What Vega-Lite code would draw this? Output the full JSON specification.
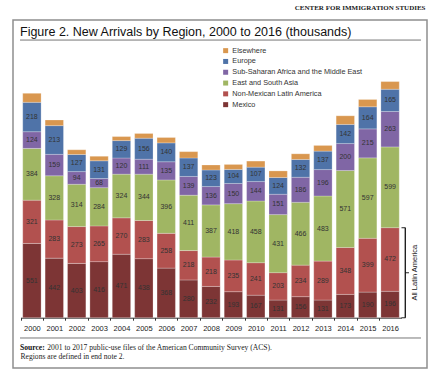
{
  "$schema": "https://vega.github.io/schema/vega-lite/v6.json",
  "width": 414,
  "height": 348,
  "autosize": {"type": "none"},
  "padding": {"left": 13, "top": 20, "right": 2, "bottom": 1},
  "background": "white",
  "title": {
    "text": "Figure 2. New Arrivals by Region, 2000 to 2016 (thousands)",
    "subtitle": "Source:",
    "anchor": "start", "frame": "group", "orient": "top", "offset": 0,
    "dx": 7, "dy": 358.5, "baseline": "alphabetic",
    "font": "Liberation Sans", "fontSize": 12.5, "fontWeight": "normal", "color": "#111111",
    "subtitleFont": "Liberation Serif", "subtitleFontSize": 7.6, "subtitleFontWeight": "bold", "subtitleColor": "#111111",
    "subtitlePadding": 301
  },
  "config": {
    "view": {"stroke": "#8f8f8f", "strokeWidth": 1.5},
    "font": "Liberation Sans"
  },
  "resolve": {"axis": {"x": "independent"}},
  "datasets": {
    "arrivals": [
      {"year": "2000", "region": "Mexico", "value": 551},
      {"year": "2001", "region": "Mexico", "value": 442},
      {"year": "2002", "region": "Mexico", "value": 403},
      {"year": "2003", "region": "Mexico", "value": 416},
      {"year": "2004", "region": "Mexico", "value": 471},
      {"year": "2005", "region": "Mexico", "value": 438},
      {"year": "2006", "region": "Mexico", "value": 368},
      {"year": "2007", "region": "Mexico", "value": 280},
      {"year": "2008", "region": "Mexico", "value": 232},
      {"year": "2009", "region": "Mexico", "value": 193},
      {"year": "2010", "region": "Mexico", "value": 167},
      {"year": "2011", "region": "Mexico", "value": 131},
      {"year": "2012", "region": "Mexico", "value": 156},
      {"year": "2013", "region": "Mexico", "value": 131},
      {"year": "2014", "region": "Mexico", "value": 173},
      {"year": "2015", "region": "Mexico", "value": 190},
      {"year": "2016", "region": "Mexico", "value": 196},
      {"year": "2000", "region": "Non-Mexican Latin America", "value": 321},
      {"year": "2001", "region": "Non-Mexican Latin America", "value": 283},
      {"year": "2002", "region": "Non-Mexican Latin America", "value": 273},
      {"year": "2003", "region": "Non-Mexican Latin America", "value": 265},
      {"year": "2004", "region": "Non-Mexican Latin America", "value": 270},
      {"year": "2005", "region": "Non-Mexican Latin America", "value": 283},
      {"year": "2006", "region": "Non-Mexican Latin America", "value": 258},
      {"year": "2007", "region": "Non-Mexican Latin America", "value": 218},
      {"year": "2008", "region": "Non-Mexican Latin America", "value": 218},
      {"year": "2009", "region": "Non-Mexican Latin America", "value": 235},
      {"year": "2010", "region": "Non-Mexican Latin America", "value": 241},
      {"year": "2011", "region": "Non-Mexican Latin America", "value": 203},
      {"year": "2012", "region": "Non-Mexican Latin America", "value": 234},
      {"year": "2013", "region": "Non-Mexican Latin America", "value": 289},
      {"year": "2014", "region": "Non-Mexican Latin America", "value": 348},
      {"year": "2015", "region": "Non-Mexican Latin America", "value": 399},
      {"year": "2016", "region": "Non-Mexican Latin America", "value": 472},
      {"year": "2000", "region": "East and South Asia", "value": 384},
      {"year": "2001", "region": "East and South Asia", "value": 328},
      {"year": "2002", "region": "East and South Asia", "value": 314},
      {"year": "2003", "region": "East and South Asia", "value": 284},
      {"year": "2004", "region": "East and South Asia", "value": 324},
      {"year": "2005", "region": "East and South Asia", "value": 344},
      {"year": "2006", "region": "East and South Asia", "value": 396},
      {"year": "2007", "region": "East and South Asia", "value": 411},
      {"year": "2008", "region": "East and South Asia", "value": 387},
      {"year": "2009", "region": "East and South Asia", "value": 418},
      {"year": "2010", "region": "East and South Asia", "value": 458},
      {"year": "2011", "region": "East and South Asia", "value": 431},
      {"year": "2012", "region": "East and South Asia", "value": 466},
      {"year": "2013", "region": "East and South Asia", "value": 483},
      {"year": "2014", "region": "East and South Asia", "value": 571},
      {"year": "2015", "region": "East and South Asia", "value": 597},
      {"year": "2016", "region": "East and South Asia", "value": 599},
      {"year": "2000", "region": "Sub-Saharan Africa and the Middle East", "value": 124},
      {"year": "2001", "region": "Sub-Saharan Africa and the Middle East", "value": 159},
      {"year": "2002", "region": "Sub-Saharan Africa and the Middle East", "value": 94},
      {"year": "2003", "region": "Sub-Saharan Africa and the Middle East", "value": 68},
      {"year": "2004", "region": "Sub-Saharan Africa and the Middle East", "value": 120},
      {"year": "2005", "region": "Sub-Saharan Africa and the Middle East", "value": 111},
      {"year": "2006", "region": "Sub-Saharan Africa and the Middle East", "value": 135},
      {"year": "2007", "region": "Sub-Saharan Africa and the Middle East", "value": 139},
      {"year": "2008", "region": "Sub-Saharan Africa and the Middle East", "value": 136},
      {"year": "2009", "region": "Sub-Saharan Africa and the Middle East", "value": 150},
      {"year": "2010", "region": "Sub-Saharan Africa and the Middle East", "value": 144},
      {"year": "2011", "region": "Sub-Saharan Africa and the Middle East", "value": 151},
      {"year": "2012", "region": "Sub-Saharan Africa and the Middle East", "value": 186},
      {"year": "2013", "region": "Sub-Saharan Africa and the Middle East", "value": 196},
      {"year": "2014", "region": "Sub-Saharan Africa and the Middle East", "value": 200},
      {"year": "2015", "region": "Sub-Saharan Africa and the Middle East", "value": 215},
      {"year": "2016", "region": "Sub-Saharan Africa and the Middle East", "value": 263},
      {"year": "2000", "region": "Europe", "value": 218},
      {"year": "2001", "region": "Europe", "value": 213},
      {"year": "2002", "region": "Europe", "value": 127},
      {"year": "2003", "region": "Europe", "value": 131},
      {"year": "2004", "region": "Europe", "value": 129},
      {"year": "2005", "region": "Europe", "value": 156},
      {"year": "2006", "region": "Europe", "value": 140},
      {"year": "2007", "region": "Europe", "value": 137},
      {"year": "2008", "region": "Europe", "value": 123},
      {"year": "2009", "region": "Europe", "value": 104},
      {"year": "2010", "region": "Europe", "value": 107},
      {"year": "2011", "region": "Europe", "value": 124},
      {"year": "2012", "region": "Europe", "value": 132},
      {"year": "2013", "region": "Europe", "value": 137},
      {"year": "2014", "region": "Europe", "value": 142},
      {"year": "2015", "region": "Europe", "value": 164},
      {"year": "2016", "region": "Europe", "value": 165},
      {"year": "2000", "region": "Elsewhere", "value": 67},
      {"year": "2001", "region": "Elsewhere", "value": 42},
      {"year": "2002", "region": "Elsewhere", "value": 35},
      {"year": "2003", "region": "Elsewhere", "value": 33},
      {"year": "2004", "region": "Elsewhere", "value": 30},
      {"year": "2005", "region": "Elsewhere", "value": 35},
      {"year": "2006", "region": "Elsewhere", "value": 40},
      {"year": "2007", "region": "Elsewhere", "value": 47},
      {"year": "2008", "region": "Elsewhere", "value": 37},
      {"year": "2009", "region": "Elsewhere", "value": 37},
      {"year": "2010", "region": "Elsewhere", "value": 45},
      {"year": "2011", "region": "Elsewhere", "value": 49},
      {"year": "2012", "region": "Elsewhere", "value": 42},
      {"year": "2013", "region": "Elsewhere", "value": 42},
      {"year": "2014", "region": "Elsewhere", "value": 64},
      {"year": "2015", "region": "Elsewhere", "value": 54},
      {"year": "2016", "region": "Elsewhere", "value": 57}
    ],
    "bracket": [
      {"year": "2016", "low": 0, "high": 668, "mid": 334, "label": "All Latin America"}
    ],
    "rules": [
      {"from": "2000", "to": "2016", "level": 2060},
      {"from": "2000", "to": "2016", "level": -150.6}
    ]
  },
  "layer": [
    {
      "data": {"name": "arrivals"},
      "transform": [
        {"calculate": "indexof(['Mexico','Non-Mexican Latin America','East and South Asia','Sub-Saharan Africa and the Middle East','Europe','Elsewhere'], datum.region)", "as": "ord"},
        {"stack": "value", "groupby": ["year"], "sort": [{"field": "ord", "order": "ascending"}], "as": ["v0", "v1"]}
      ],
      "mark": {"type": "bar", "stroke": "#ffffff", "strokeWidth": 0.4, "strokeOpacity": 0.6},
      "encoding": {
        "x": {
          "field": "year", "type": "ordinal",
          "scale": {"range": [7.5, 388.5], "paddingInner": 0.18, "paddingOuter": 0.1},
          "axis": {
            "orient": "bottom",
            "title": "2001 to 2017 public-use files of the American Community Survey (ACS).",
            "titleX": 33.8, "titleY": 31.8, "titleAlign": "left", "titleAnchor": "start", "titleBaseline": "alphabetic",
            "titleFont": "Liberation Serif", "titleFontSize": 7.6, "titleFontWeight": "normal", "titleColor": "#222222",
            "offset": -50.3, "labelAngle": 0, "labelFontSize": 7.5, "labelColor": "#222222", "labelPadding": 4,
            "tickSize": 2.5, "tickOffset": -11.19, "labelOffset": 11.19, "tickColor": "#333333", "domainColor": "#333333", "grid": false
          }
        },
        "y": {
          "field": "v0", "type": "quantitative",
          "scale": {"domain": [0, 1800], "range": [297.7, 55.1], "nice": false, "zero": false},
          "axis": {
            "title": "CENTER FOR IMMIGRATION STUDIES",
            "titleX": 412, "titleY": -13, "titleAngle": 0, "titleAlign": "right", "titleBaseline": "middle",
            "titleFont": "Liberation Serif", "titleFontSize": 7, "titleFontWeight": "bold", "titleColor": "#222222",
            "labels": false, "ticks": false, "domain": false, "grid": false
          }
        },
        "y2": {"field": "v1"},
        "color": {
          "field": "region", "type": "nominal",
          "scale": {
            "domain": ["Elsewhere", "Europe", "Sub-Saharan Africa and the Middle East", "East and South Asia", "Non-Mexican Latin America", "Mexico"],
            "range": ["#d9974f", "#4f73a8", "#8066a5", "#a0b663", "#b2514f", "#7d3535"]
          },
          "legend": {
            "orient": "none", "legendX": 209, "legendY": 27, "title": null,
            "symbolType": "square", "symbolSize": 25, "symbolStrokeWidth": 0,
            "labelFontSize": 7.3, "labelColor": "#333333", "labelFont": "Liberation Sans", "labelOffset": 3,
            "rowPadding": 2.8, "padding": 0, "offset": 0, "labelLimit": 300
          }
        }
      }
    },
    {
      "data": {"name": "arrivals"},
      "transform": [
        {"calculate": "indexof(['Mexico','Non-Mexican Latin America','East and South Asia','Sub-Saharan Africa and the Middle East','Europe','Elsewhere'], datum.region)", "as": "ord"},
        {"stack": "value", "groupby": ["year"], "sort": [{"field": "ord", "order": "ascending"}], "as": ["v0", "v1"]},
        {"filter": "datum.region !== 'Elsewhere'"},
        {"calculate": "(datum.v0 + datum.v1) / 2", "as": "mid"}
      ],
      "mark": {"type": "text", "fontSize": 7, "font": "Liberation Sans", "color": "#333333"},
      "encoding": {
        "x": {"field": "year", "type": "ordinal", "axis": null},
        "y": {"field": "mid", "type": "quantitative"},
        "text": {"field": "value", "type": "quantitative"}
      }
    },
    {
      "data": {"name": "rules"},
      "mark": {"type": "rule", "xOffset": -11.9, "x2Offset": 30.9, "color": "#777777", "strokeWidth": 1},
      "encoding": {
        "x": {
          "field": "from", "type": "ordinal",
          "axis": {
            "orient": "top",
            "title": "Regions are defined in end note 2.",
            "titleX": 7, "titleY": 338.8, "titleAlign": "left", "titleAnchor": "start", "titleBaseline": "alphabetic", "titleAngle": 0,
            "titleFont": "Liberation Serif", "titleFontSize": 7.6, "titleFontWeight": "normal", "titleColor": "#222222",
            "labels": false, "ticks": false, "domain": false, "grid": false
          }
        },
        "x2": {"field": "to"},
        "y": {"field": "level", "type": "quantitative"}
      }
    },
    {
      "data": {"name": "bracket"},
      "mark": {"type": "rule", "xOffset": 15.2, "strokeWidth": 1.3, "color": "#111111"},
      "encoding": {
        "x": {"field": "year", "type": "ordinal", "axis": null},
        "y": {"field": "low", "type": "quantitative"},
        "y2": {"field": "high"}
      }
    },
    {
      "data": {"name": "bracket"},
      "mark": {"type": "tick", "xOffset": 13.4, "size": 4, "thickness": 1.3, "color": "#111111", "orient": "horizontal"},
      "encoding": {
        "x": {"field": "year", "type": "ordinal", "axis": null},
        "y": {"field": "high", "type": "quantitative"}
      }
    },
    {
      "data": {"name": "bracket"},
      "mark": {"type": "tick", "xOffset": 13.4, "size": 4, "thickness": 1.3, "color": "#111111", "orient": "horizontal"},
      "encoding": {
        "x": {"field": "year", "type": "ordinal", "axis": null},
        "y": {"field": "low", "type": "quantitative"}
      }
    },
    {
      "data": {"name": "bracket"},
      "mark": {"type": "tick", "xOffset": 16.9, "size": 4, "thickness": 1.3, "color": "#111111", "orient": "horizontal"},
      "encoding": {
        "x": {"field": "year", "type": "ordinal", "axis": null},
        "y": {"field": "mid", "type": "quantitative"}
      }
    },
    {
      "data": {"name": "bracket"},
      "mark": {"type": "text", "xOffset": 25, "angle": 270, "fontSize": 7.5, "font": "Liberation Sans", "color": "#222222", "align": "center", "baseline": "middle"},
      "encoding": {
        "x": {"field": "year", "type": "ordinal", "axis": null},
        "y": {"field": "mid", "type": "quantitative"},
        "text": {"field": "label"}
      }
    }
  ]
}
